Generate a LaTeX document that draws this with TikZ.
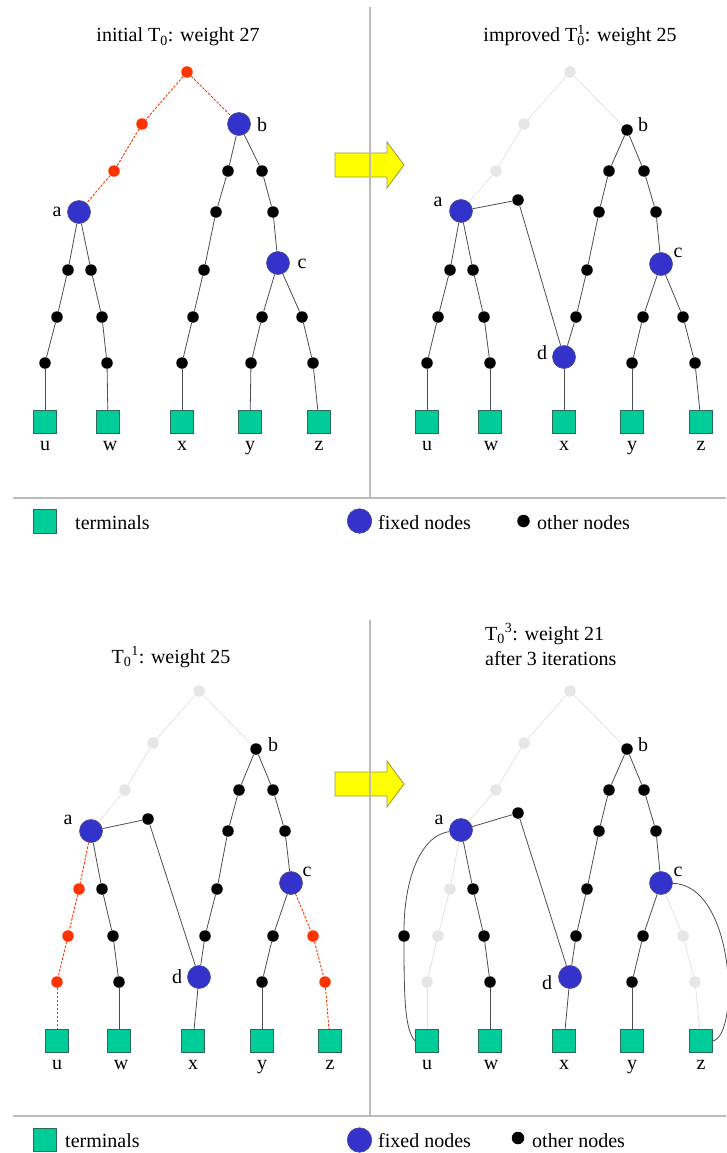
\documentclass[tikz,border=0pt]{standalone}
\usepackage{fontspec}
\setmainfont{Liberation Serif}
\definecolor{termgreen}{HTML}{00CC99}
\definecolor{termborder}{HTML}{2E6B57}
\definecolor{fixblue}{HTML}{3333CC}
\definecolor{fixborder}{HTML}{4A4A8A}
\definecolor{redc}{HTML}{FF3300}
\definecolor{grayn}{HTML}{E6E6E6}
\definecolor{grayl}{HTML}{E3E3E3}
\definecolor{edgec}{HTML}{4D4D4D}
\definecolor{framec}{HTML}{BBBBBB}
\definecolor{arrowfill}{HTML}{FFFF00}
\definecolor{arrowdraw}{HTML}{99993A}
\newcommand\bigtext{\fontsize{20}{24}\selectfont\rmfamily}
\tikzset{
  dot/.style={circle, fill=black, inner sep=0pt, minimum size=11.5pt},
  reddot/.style={dot, fill=redc},
  graydot/.style={dot, fill=grayn},
  fixed/.style={circle, fill=fixblue, draw=fixborder, line width=0.6pt, inner sep=0pt, minimum size=23pt},
  term/.style={rectangle, fill=termgreen, draw=termborder, line width=0.8pt, inner sep=0pt, minimum size=23pt},
  edge/.style={draw=edgec, line width=0.8pt},
  rededge/.style={draw=redc, line width=0.9pt, dash pattern=on 2.5pt off 1.5pt},
  grayedge/.style={draw=grayl, line width=0.8pt},
  lbl/.style={inner sep=0pt, font=\bigtext},
  txt/.style={inner sep=0pt, font=\bigtext},
  frame/.style={draw=framec, line width=1.5pt},
  bigarrow/.style={fill=arrowfill, draw=arrowdraw, line width=0.8pt}
}
\begin{document}
\begin{tikzpicture}[x=1pt,y=-1pt]
\useasboundingbox (0,0) rectangle (726,1153);

% ---------- arrows ----------
\fill[bigarrow] (335,153) -- (387,153) -- (387,142) -- (404,165) -- (387,188) -- (387,177) -- (335,177) -- cycle;
\fill[bigarrow] (335,772) -- (387,772) -- (387,761) -- (404,784) -- (387,807) -- (387,796) -- (335,796) -- cycle;

% ---------- frame ----------
\draw[frame] (370,7) -- (370,498);
\draw[frame] (13,498) -- (726,498);
\draw[frame] (370,620) -- (370,1116);
\draw[frame] (13,1116) -- (726,1116);

% ================= TOP LEFT =================
\node[txt, anchor=base] (tl-title) at (178,42) {initial T\textsubscript{0}: weight 27};
\node[reddot] (tl-r1) at (187,72) {};
\node[reddot] (tl-r2) at (142,124) {};
\node[reddot] (tl-r3) at (114,171) {};
\node[fixed] (tl-a) at (79,212) {};
\node[fixed] (tl-b) at (239,124) {};
\node[dot] (tl-b1) at (228,171) {};
\node[dot] (tl-b2) at (262,171) {};
\node[dot] (tl-b3) at (216,212) {};
\node[dot] (tl-b4) at (273,212) {};
\node[dot] (tl-b5) at (204,270) {};
\node[dot] (tl-b6) at (193,317) {};
\node[dot] (tl-b7) at (182,363) {};
\node[fixed] (tl-c) at (278,263) {};
\node[dot] (tl-a1) at (68,270) {};
\node[dot] (tl-a2) at (91,270) {};
\node[dot] (tl-a3) at (57,317) {};
\node[dot] (tl-a4) at (102,317) {};
\node[dot] (tl-a5) at (45,363) {};
\node[dot] (tl-a6) at (107,363) {};
\node[dot] (tl-c1) at (262,317) {};
\node[dot] (tl-c2) at (302,317) {};
\node[dot] (tl-c3) at (251,363) {};
\node[dot] (tl-c4) at (313,363) {};
\node[term] (tl-u) at (45,422) {};
\node[term] (tl-w) at (108,422) {};
\node[term] (tl-x) at (182,422) {};
\node[term] (tl-y) at (250,422) {};
\node[term] (tl-z) at (319,422) {};
\node[lbl] (tl-la) at (57,212) {a};
\node[lbl] (tl-lb) at (262,125) {b};
\node[lbl] (tl-lc) at (302,264) {c};
\node[lbl, anchor=base] (tl-lu) at (45,450) {u};
\node[lbl, anchor=base] (tl-lw) at (110,450) {w};
\node[lbl, anchor=base] (tl-lx) at (182,450) {x};
\node[lbl, anchor=base] (tl-ly) at (250,450) {y};
\node[lbl, anchor=base] (tl-lz) at (319,450) {z};
\foreach \s/\t in {r1/r2, r2/r3, r3/a, r1/b}
  \draw[rededge] (tl-\s) -- (tl-\t);
\foreach \s/\t in {b/b1, b1/b3, b3/b5, b5/b6, b6/b7, b7/x, b/b2, b2/b4, b4/c,
                   a/a1, a1/a3, a3/a5, a5/u, a/a2, a2/a4, a4/a6, a6/w,
                   c/c1, c1/c3, c3/y, c/c2, c2/c4, c4/z}
  \draw[edge] (tl-\s) -- (tl-\t);

% ================= TOP RIGHT =================
\node[txt, anchor=base] (tr-title) at (580,42) {improved T\rlap{\textsuperscript{1}}\textsubscript{0}: weight 25};
\node[graydot] (tr-g1) at (570,72) {};
\node[graydot] (tr-g2) at (524,124) {};
\node[graydot] (tr-g3) at (496,171) {};
\node[fixed] (tr-a) at (461,211) {};
\node[dot] (tr-e) at (518,200) {};
\node[dot] (tr-b) at (627,130) {};
\node[dot] (tr-b1) at (609,171) {};
\node[dot] (tr-b2) at (644,171) {};
\node[dot] (tr-b3) at (599,212) {};
\node[dot] (tr-b4) at (656,212) {};
\node[dot] (tr-b5) at (587,270) {};
\node[dot] (tr-b6) at (576,317) {};
\node[fixed] (tr-d) at (564,357) {};
\node[fixed] (tr-c) at (661,264) {};
\node[dot] (tr-a1) at (450,270) {};
\node[dot] (tr-a2) at (473,270) {};
\node[dot] (tr-a3) at (438,317) {};
\node[dot] (tr-a4) at (484,317) {};
\node[dot] (tr-a5) at (427,363) {};
\node[dot] (tr-a6) at (490,363) {};
\node[dot] (tr-c1) at (643,317) {};
\node[dot] (tr-c2) at (683,317) {};
\node[dot] (tr-c3) at (632,363) {};
\node[dot] (tr-c4) at (695,363) {};
\node[term] (tr-u) at (427,422) {};
\node[term] (tr-w) at (490,422) {};
\node[term] (tr-x) at (564,422) {};
\node[term] (tr-y) at (632,422) {};
\node[term] (tr-z) at (701,422) {};
\node[lbl] (tr-la) at (438,202) {a};
\node[lbl] (tr-lb) at (643,125) {b};
\node[lbl] (tr-lc) at (678,253) {c};
\node[lbl] (tr-ld) at (542,353) {d};
\node[lbl, anchor=base] (tr-lu) at (427,450) {u};
\node[lbl, anchor=base] (tr-lw) at (491,450) {w};
\node[lbl, anchor=base] (tr-lx) at (564,450) {x};
\node[lbl, anchor=base] (tr-ly) at (632,450) {y};
\node[lbl, anchor=base] (tr-lz) at (701,450) {z};
\foreach \s/\t in {g1/g2, g2/g3, g3/a, g1/b}
  \draw[grayedge] (tr-\s) -- (tr-\t);
\foreach \s/\t in {a/e, e/d, b/b1, b1/b3, b3/b5, b5/b6, b6/d, d/x, b/b2, b2/b4, b4/c,
                   a/a1, a1/a3, a3/a5, a5/u, a/a2, a2/a4, a4/a6, a6/w,
                   c/c1, c1/c3, c3/y, c/c2, c2/c4, c4/z}
  \draw[edge] (tr-\s) -- (tr-\t);

% ================= BOTTOM LEFT =================
\node[txt, anchor=base] (bl-title) at (171,663) {T\textsubscript{0}\textsuperscript{1}: weight 25};
\node[graydot] (bl-g1) at (199,691) {};
\node[graydot] (bl-g2) at (153,743) {};
\node[graydot] (bl-g3) at (125,790) {};
\node[fixed] (bl-a) at (91,831) {};
\node[dot] (bl-e) at (148,819) {};
\node[dot] (bl-b) at (256,749) {};
\node[dot] (bl-b1) at (239,790) {};
\node[dot] (bl-b2) at (273,790) {};
\node[dot] (bl-b3) at (228,831) {};
\node[dot] (bl-b4) at (285,831) {};
\node[dot] (bl-b5) at (217,889) {};
\node[dot] (bl-b6) at (205,936) {};
\node[fixed] (bl-d) at (199,977) {};
\node[fixed] (bl-c) at (291,883) {};
\node[reddot] (bl-a1) at (79,889) {};
\node[dot] (bl-a2) at (102,889) {};
\node[reddot] (bl-a3) at (68,936) {};
\node[dot] (bl-a4) at (113,936) {};
\node[reddot] (bl-a5) at (57,982) {};
\node[dot] (bl-a6) at (119,982) {};
\node[dot] (bl-c1) at (273,936) {};
\node[reddot] (bl-c2) at (313,936) {};
\node[dot] (bl-c3) at (262,982) {};
\node[reddot] (bl-c4) at (325,982) {};
\node[term] (bl-u) at (57,1041) {};
\node[term] (bl-w) at (119,1041) {};
\node[term] (bl-x) at (193,1041) {};
\node[term] (bl-y) at (262,1041) {};
\node[term] (bl-z) at (330,1041) {};
\node[lbl] (bl-la) at (68,820) {a};
\node[lbl] (bl-lb) at (273,745) {b};
\node[lbl] (bl-lc) at (307,872) {c};
\node[lbl] (bl-ld) at (177,977) {d};
\node[lbl, anchor=base] (bl-lu) at (57,1069) {u};
\node[lbl, anchor=base] (bl-lw) at (121,1069) {w};
\node[lbl, anchor=base] (bl-lx) at (193,1069) {x};
\node[lbl, anchor=base] (bl-ly) at (262,1069) {y};
\node[lbl, anchor=base] (bl-lz) at (330,1069) {z};
\foreach \s/\t in {g1/g2, g2/g3, g3/a, g1/b}
  \draw[grayedge] (bl-\s) -- (bl-\t);
\foreach \s/\t in {a/a1, a1/a3, a3/a5, a5/u, c/c2, c2/c4, c4/z}
  \draw[rededge] (bl-\s) -- (bl-\t);
\foreach \s/\t in {a/e, e/d, b/b1, b1/b3, b3/b5, b5/b6, b6/d, d/x, b/b2, b2/b4, b4/c,
                   a/a2, a2/a4, a4/a6, a6/w, c/c1, c1/c3, c3/y}
  \draw[edge] (bl-\s) -- (bl-\t);

% ================= BOTTOM RIGHT =================
\node[txt, anchor=base west] (br-title) at (485,640) {T\textsubscript{0}\textsuperscript{3}: weight 21};
\node[txt, anchor=base west] (br-title2) at (485,665) {after 3 iterations};
\node[graydot] (br-g1) at (570,691) {};
\node[graydot] (br-g2) at (524,743) {};
\node[graydot] (br-g3) at (496,790) {};
\node[fixed] (br-a) at (461,830) {};
\node[dot] (br-e) at (518,813) {};
\node[dot] (br-b) at (627,749) {};
\node[dot] (br-b1) at (609,790) {};
\node[dot] (br-b2) at (644,790) {};
\node[dot] (br-b3) at (599,831) {};
\node[dot] (br-b4) at (656,831) {};
\node[dot] (br-b5) at (587,889) {};
\node[dot] (br-b6) at (576,936) {};
\node[fixed] (br-d) at (570,977) {};
\node[fixed] (br-c) at (661,883) {};
\node[graydot] (br-a1) at (450,889) {};
\node[dot] (br-a2) at (473,889) {};
\node[graydot] (br-a3) at (438,936) {};
\node[dot] (br-a4) at (484,936) {};
\node[graydot] (br-a5) at (427,982) {};
\node[dot] (br-a6) at (490,982) {};
\node[dot] (br-c1) at (643,936) {};
\node[graydot] (br-c2) at (683,936) {};
\node[dot] (br-c3) at (632,982) {};
\node[graydot] (br-c4) at (695,982) {};
\node[dot] (br-ex) at (404,936) {};
\node[term] (br-u) at (427,1041) {};
\node[term] (br-w) at (490,1041) {};
\node[term] (br-x) at (564,1041) {};
\node[term] (br-y) at (632,1041) {};
\node[term] (br-z) at (701,1041) {};
\node[lbl] (br-la) at (439,820) {a};
\node[lbl] (br-lb) at (643,745) {b};
\node[lbl] (br-lc) at (678,872) {c};
\node[lbl] (br-ld) at (547,983) {d};
\node[lbl, anchor=base] (br-lu) at (427,1069) {u};
\node[lbl, anchor=base] (br-lw) at (491,1069) {w};
\node[lbl, anchor=base] (br-lx) at (564,1069) {x};
\node[lbl, anchor=base] (br-ly) at (632,1069) {y};
\node[lbl, anchor=base] (br-lz) at (701,1069) {z};
\foreach \s/\t in {g1/g2, g2/g3, g3/a, g1/b, a/a1, a1/a3, a3/a5, a5/u, c/c2, c2/c4, c4/z}
  \draw[grayedge] (br-\s) -- (br-\t);
\foreach \s/\t in {a/e, e/d, b/b1, b1/b3, b3/b5, b5/b6, b6/d, d/x, b/b2, b2/b4, b4/c,
                   a/a2, a2/a4, a4/a6, a6/w, c/c1, c1/c3, c3/y}
  \draw[edge] (br-\s) -- (br-\t);
\draw[edge] (br-a) .. controls (418,836) and (404,885) .. (br-ex);
\draw[edge] (br-ex) .. controls (404,1000) and (405,1030) .. (br-u.west);
\draw[edge] (br-c) .. controls (735,885) and (740,1035) .. (br-z.east);

% ================= LEGENDS =================
\node[term, minimum height=24pt] (lg1-t) at (44.5,521) {};
\node[txt, anchor=base west] (lg1-tt) at (75,529) {terminals};
\node[fixed, minimum size=24.5pt] (lg1-f) at (359.5,521) {};
\node[txt, anchor=base west] (lg1-ft) at (378,529) {fixed nodes};
\node[dot, minimum size=12.5pt] (lg1-o) at (523.5,521) {};
\node[txt, anchor=base west] (lg1-ot) at (537,529) {other nodes};

\node[term] (lg2-t) at (44.5,1139.5) {};
\node[txt, anchor=base west] (lg2-tt) at (65,1147) {terminals};
\node[fixed, minimum size=24.5pt] (lg2-f) at (359.5,1140) {};
\node[txt, anchor=base west] (lg2-ft) at (378,1147) {fixed nodes};
\node[dot, minimum size=12.5pt] (lg2-o) at (518,1138) {};
\node[txt, anchor=base west] (lg2-ot) at (532,1147) {other nodes};
\end{tikzpicture}
\end{document}
